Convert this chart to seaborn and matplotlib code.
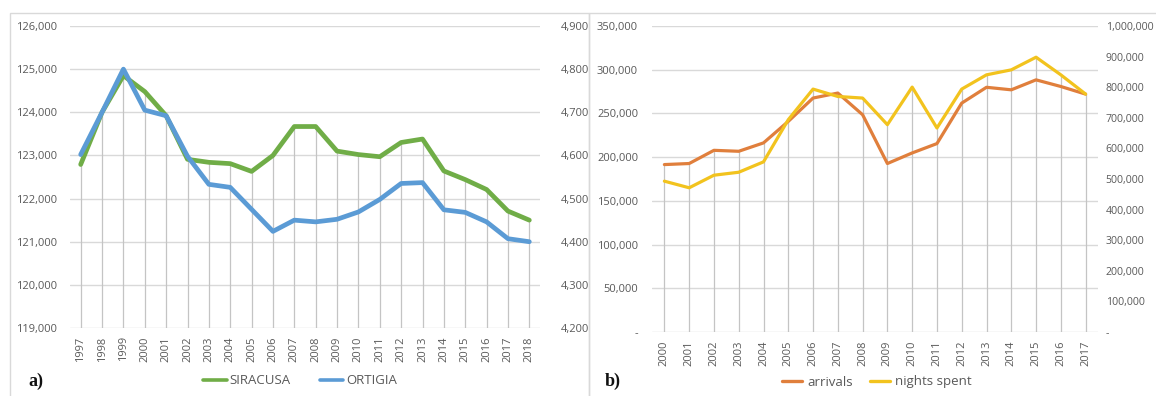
import matplotlib
matplotlib.use("Agg")
import matplotlib.pyplot as plt
import matplotlib.ticker as mticker
from matplotlib.lines import Line2D
from matplotlib.patches import Rectangle
import numpy as np
import pandas as pd
import seaborn as sns

# ---- data: resident population (panel a) ----
years_a = list(range(1997, 2019))
siracusa = [122790, 124000, 124850, 124480, 123920, 122910, 122840, 122810,
            122630, 123000, 123670, 123670, 123100, 123020, 122970, 123300,
            123380, 122640, 122440, 122210, 121710, 121500]
ortigia = [4602, 4700, 4800, 4705, 4692, 4598, 4533, 4526,
           4475, 4424, 4450, 4446, 4452, 4469, 4498, 4535,
           4537, 4474, 4468, 4446, 4407, 4400]

# ---- data: tourism flows (panel b) ----
years_b = list(range(2000, 2018))
arrivals = [191500, 192700, 207800, 206700, 216300, 240900, 267600, 273300,
            248500, 192700, 204800, 215500, 261800, 279900, 277000, 288400,
            280800, 272100]
nights = [492900, 471300, 512400, 522100, 556000, 693800, 793800, 769700,
          764500, 677500, 800300, 666700, 793800, 840400, 856700, 898000,
          840400, 777500]

GREEN = "#70AD47"
BLUE = "#5B9BD5"
ORANGE = "#E07F3C"
YELLOW = "#F2C31E"
GRID = "#D9D9D9"
DROP = "#C4C4C4"
TXT = "#595959"

sns.set_theme(style="white")
plt.rcParams["font.family"] = ["Open Sans", "DejaVu Sans"]

W, H = 1156, 396
fig = plt.figure(figsize=(W / 100, H / 100), dpi=100)


def px_axes(x0, x1, ytop, ybot):
    return fig.add_axes([x0 / W, 1 - ybot / H, (x1 - x0) / W, (ybot - ytop) / H])


def fmt_thousands(v, _):
    if abs(v) < 1e-9:
        return "-"
    return f"{v:,.0f}"


def style_axis(ax, ylim, step, side_pad, size=8):
    ax.set_ylim(*ylim)
    ax.yaxis.set_major_locator(mticker.MultipleLocator(step))
    ax.yaxis.set_major_formatter(mticker.FuncFormatter(fmt_thousands))
    ax.tick_params(axis="y", length=0, pad=side_pad, labelsize=size, labelcolor=TXT)
    for s in ax.spines.values():
        s.set_visible(False)
    ax.set_xlabel("")
    ax.set_ylabel("")


def panel(ax, years, s1, s2, lim1, step1, lim2, step2, c1, c2, lw, pads, size2=8):
    df = pd.DataFrame({"year": years, "s1": s1, "s2": s2})
    ax2 = ax.twinx()
    ax.set_xlim(years[0] - 0.5, years[-1] + 0.5)
    style_axis(ax, lim1, step1, pads[0])
    style_axis(ax2, lim2, step2, pads[1], size2)
    ax.yaxis.grid(True, color=GRID, lw=1.0)
    ax.set_axisbelow(True)

    # drop lines from the upper of the two series down to the category axis
    f1 = (np.array(s1) - lim1[0]) / (lim1[1] - lim1[0])
    f2 = (np.array(s2) - lim2[0]) / (lim2[1] - lim2[0])
    top = np.maximum(f1, f2)
    ax.vlines(years, 0, top, transform=ax.get_xaxis_transform(),
              color=DROP, lw=0.9, zorder=1)

    sns.lineplot(data=df, x="year", y="s1", ax=ax, color=c1, lw=lw,
                 legend=False, zorder=3)
    sns.lineplot(data=df, x="year", y="s2", ax=ax2, color=c2, lw=lw,
                 legend=False, zorder=3)
    ax.set_xlim(years[0] - 0.5, years[-1] + 0.5)
    ax.set_xticks(years)
    ax.set_xticklabels([str(y) for y in years], rotation=90)
    ax.tick_params(axis="x", length=0, pad=6, labelsize=8, labelcolor=TXT)
    for a in (ax, ax2):
        a.set_xlabel("")
        a.set_ylabel("")
    return ax2


# panel a)
axa = px_axes(70, 540, 26, 328)
panel(axa, years_a, siracusa, ortigia, (119000, 126000), 1000,
      (4200, 4900), 100, GREEN, BLUE, 3.4, (9, 15))

# panel b)
axb = px_axes(652, 1098, 26, 332)
panel(axb, years_b, arrivals, nights, (0, 350000), 50000,
      (0, 1000000), 100000, ORANGE, YELLOW, 2.3, (10, 5.5), size2=7.6)

# panel frames
fig.patches.append(Rectangle((10 / W, -0.1), 579 / W, 1 - 13 / H + 0.1,
                             transform=fig.transFigure, fill=False,
                             edgecolor=GRID, lw=1.0))
fig.patches.append(Rectangle((589 / W, -0.1), 600 / W, 1 - 13 / H + 0.1,
                             transform=fig.transFigure, fill=False,
                             edgecolor=GRID, lw=1.0))

# legends
ha = [Line2D([], [], color=GREEN, lw=2.6), Line2D([], [], color=BLUE, lw=2.6)]
fig.legend(ha, ["SIRACUSA", "ORTIGIA"], loc="center",
           bbox_to_anchor=(300 / W, 1 - 381 / H), ncol=2, frameon=False,
           fontsize=9.5, labelcolor=TXT, handlelength=1.8, handletextpad=0.2,
           columnspacing=2.2)
hb = [Line2D([], [], color=ORANGE, lw=2.4), Line2D([], [], color=YELLOW, lw=2.4)]
fig.legend(hb, ["arrivals", "nights spent"], loc="center",
           bbox_to_anchor=(877 / W, 1 - 382 / H), ncol=2, frameon=False,
           fontsize=9.5, labelcolor=TXT, handlelength=1.5, handletextpad=0.4,
           columnspacing=1.3)

# panel tags
fig.text(28 / W, 1 - 381 / H, "a)", family=["Liberation Serif"], fontsize=13,
         fontweight="bold", color="#111111", va="center", ha="left")
fig.text(605 / W, 1 - 381 / H, "b)", family=["Liberation Serif"], fontsize=13,
         fontweight="bold", color="#111111", va="center", ha="left")

fig.savefig("out.png", dpi=100, facecolor="white")
